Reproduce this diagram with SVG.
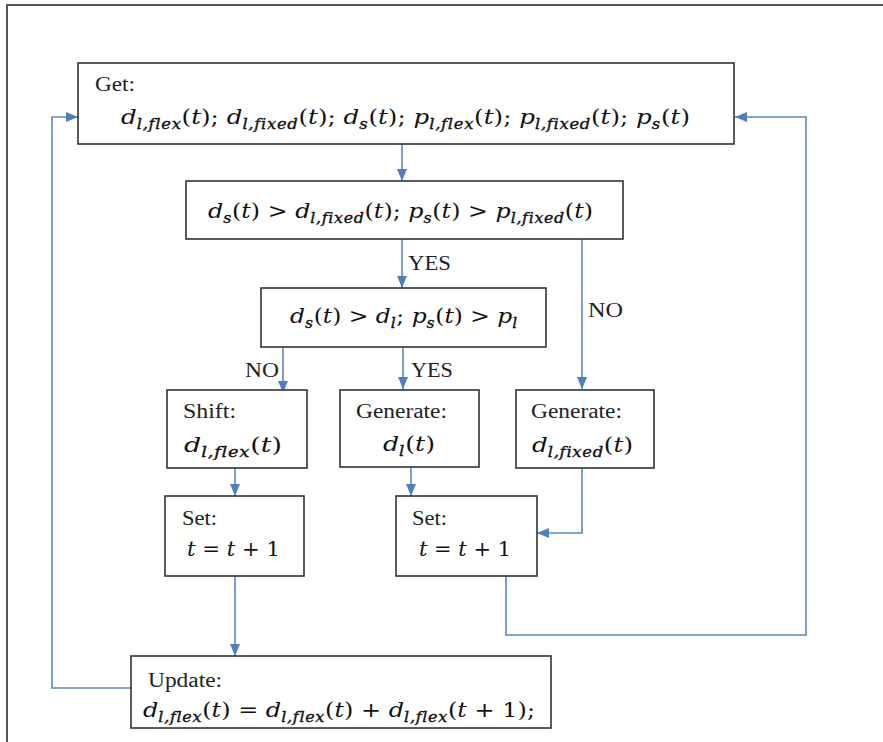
<svg xmlns="http://www.w3.org/2000/svg" width="883" height="742" viewBox="0 0 883 742">
<defs>
<style>
.box{fill:#fff;stroke:#333;stroke-width:1.6}
.c{fill:none;stroke:#5a88c4;stroke-width:1.6}
.t{font-family:"Liberation Serif",serif;font-size:20px;fill:#222}
.m{font-family:"DejaVu Serif",serif;font-size:21px;font-style:italic;fill:#111;font-variant-ligatures:none;font-feature-settings:"liga" 0,"clig" 0}
.u{font-style:normal}
.s{font-size:14px;font-style:italic;stroke:#111;stroke-width:0.35;letter-spacing:0.6px}
</style>
<marker id="ah" viewBox="0 0 12 10" refX="12" refY="5" markerUnits="userSpaceOnUse" markerWidth="12" markerHeight="10" orient="auto">
<path d="M0,0 L12,5 L0,10 z" fill="#4f7fc0"/>
</marker>
</defs>
<rect width="883" height="742" fill="#fff"/>
<path d="M7,742 L7,5 L883,5" fill="none" stroke="#555" stroke-width="2"/>

<g id="connectors">
<path class="c" d="M402,144 L402,181" marker-end="url(#ah)"/>
<path class="c" d="M402,239 L402,288" marker-end="url(#ah)"/>
<path class="c" d="M582,239 L582,389" marker-end="url(#ah)"/>
<path class="c" d="M283,347 L283,393" marker-end="url(#ah)"/>
<path class="c" d="M403,347 L403,389" marker-end="url(#ah)"/>
<path class="c" d="M235,468 L235,496" marker-end="url(#ah)"/>
<path class="c" d="M411,467 L411,496" marker-end="url(#ah)"/>
<path class="c" d="M582,468 L582,533 L537,533" marker-end="url(#ah)"/>
<path class="c" d="M235,576 L235,656" marker-end="url(#ah)"/>
<path class="c" d="M506,576 L506,635 L806,635 L806,117 L735,117" marker-end="url(#ah)"/>
<path class="c" d="M131,688 L52,688 L52,117 L78,117" marker-end="url(#ah)"/>
<text class="t" x="408" y="270" textLength="43" lengthAdjust="spacingAndGlyphs">YES</text>
<text class="t" x="588" y="317" textLength="35" lengthAdjust="spacingAndGlyphs">NO</text>
<text class="t" x="245" y="377" textLength="34" lengthAdjust="spacingAndGlyphs">NO</text>
<text class="t" x="411" y="377" textLength="42" lengthAdjust="spacingAndGlyphs">YES</text>
</g>

<g id="get">
<rect class="box" x="78" y="63" width="656" height="81"/>
<text class="t" x="95" y="91" textLength="40" lengthAdjust="spacingAndGlyphs">Get:</text>
<text class="m" x="121" y="124" textLength="569" lengthAdjust="spacingAndGlyphs">d<tspan class="s" dy="5">l,flex</tspan><tspan class="u" dy="-5">(</tspan>t<tspan class="u">); </tspan>d<tspan class="s" dy="5">l,fixed</tspan><tspan class="u" dy="-5">(</tspan>t<tspan class="u">); </tspan>d<tspan class="s" dy="5">s</tspan><tspan class="u" dy="-5">(</tspan>t<tspan class="u">); </tspan>p<tspan class="s" dy="5">l,flex</tspan><tspan class="u" dy="-5">(</tspan>t<tspan class="u">); </tspan>p<tspan class="s" dy="5">l,fixed</tspan><tspan class="u" dy="-5">(</tspan>t<tspan class="u">); </tspan>p<tspan class="s" dy="5">s</tspan><tspan class="u" dy="-5">(</tspan>t<tspan class="u">)</tspan></text>
</g>

<g id="cond1">
<rect class="box" x="186" y="181" width="437" height="58"/>
<text class="m" x="208" y="218" textLength="385" lengthAdjust="spacingAndGlyphs">d<tspan class="s" dy="5">s</tspan><tspan class="u" dy="-5">(</tspan>t<tspan class="u">) &gt; </tspan>d<tspan class="s" dy="5">l,fixed</tspan><tspan class="u" dy="-5">(</tspan>t<tspan class="u">); </tspan>p<tspan class="s" dy="5">s</tspan><tspan class="u" dy="-5">(</tspan>t<tspan class="u">) &gt; </tspan>p<tspan class="s" dy="5">l,fixed</tspan><tspan class="u" dy="-5">(</tspan>t<tspan class="u">)</tspan></text>
</g>

<g id="cond2">
<rect class="box" x="261" y="288" width="285" height="59"/>
<text class="m" x="290" y="323" textLength="228" lengthAdjust="spacingAndGlyphs">d<tspan class="s" dy="5">s</tspan><tspan class="u" dy="-5">(</tspan>t<tspan class="u">) &gt; </tspan>d<tspan class="s" dy="5">l</tspan><tspan class="u" dy="-5">; </tspan>p<tspan class="s" dy="5">s</tspan><tspan class="u" dy="-5">(</tspan>t<tspan class="u">) &gt; </tspan>p<tspan class="s" dy="5">l</tspan></text>
</g>

<g id="shift">
<rect class="box" x="167" y="390" width="140" height="78"/>
<text class="t" x="183" y="418" textLength="53" lengthAdjust="spacingAndGlyphs">Shift:</text>
<text class="m" x="184" y="452" textLength="98" lengthAdjust="spacingAndGlyphs">d<tspan class="s" dy="5">l,flex</tspan><tspan class="u" dy="-5">(</tspan>t<tspan class="u">)</tspan></text>
</g>

<g id="gen1">
<rect class="box" x="340" y="390" width="139" height="77"/>
<text class="t" x="356" y="418" textLength="91" lengthAdjust="spacingAndGlyphs">Generate:</text>
<text class="m" x="383" y="451" textLength="52" lengthAdjust="spacingAndGlyphs">d<tspan class="s" dy="5">l</tspan><tspan class="u" dy="-5">(</tspan>t<tspan class="u">)</tspan></text>
</g>

<g id="gen2">
<rect class="box" x="516" y="390" width="138" height="78"/>
<text class="t" x="531" y="418" textLength="91" lengthAdjust="spacingAndGlyphs">Generate:</text>
<text class="m" x="532" y="452" textLength="101" lengthAdjust="spacingAndGlyphs">d<tspan class="s" dy="5">l,fixed</tspan><tspan class="u" dy="-5">(</tspan>t<tspan class="u">)</tspan></text>
</g>

<g id="set1">
<rect class="box" x="165" y="496" width="139" height="80"/>
<text class="t" x="182" y="525" textLength="35" lengthAdjust="spacingAndGlyphs">Set:</text>
<text class="m" x="187" y="556" textLength="93" lengthAdjust="spacingAndGlyphs">t<tspan class="u"> = </tspan>t<tspan class="u"> + 1</tspan></text>
</g>

<g id="set2">
<rect class="box" x="396" y="496" width="141" height="80"/>
<text class="t" x="412" y="525" textLength="35" lengthAdjust="spacingAndGlyphs">Set:</text>
<text class="m" x="419" y="556" textLength="92" lengthAdjust="spacingAndGlyphs">t<tspan class="u"> = </tspan>t<tspan class="u"> + 1</tspan></text>
</g>

<g id="update">
<rect class="box" x="131" y="656" width="420" height="72"/>
<text class="t" x="148" y="687" textLength="74" lengthAdjust="spacingAndGlyphs">Update:</text>
<text class="m" x="143" y="717" textLength="392" lengthAdjust="spacingAndGlyphs">d<tspan class="s" dy="5">l,flex</tspan><tspan class="u" dy="-5">(</tspan>t<tspan class="u">) = </tspan>d<tspan class="s" dy="5">l,flex</tspan><tspan class="u" dy="-5">(</tspan>t<tspan class="u">) + </tspan>d<tspan class="s" dy="5">l,flex</tspan><tspan class="u" dy="-5">(</tspan>t<tspan class="u"> + 1);</tspan></text>
</g>
</svg>
